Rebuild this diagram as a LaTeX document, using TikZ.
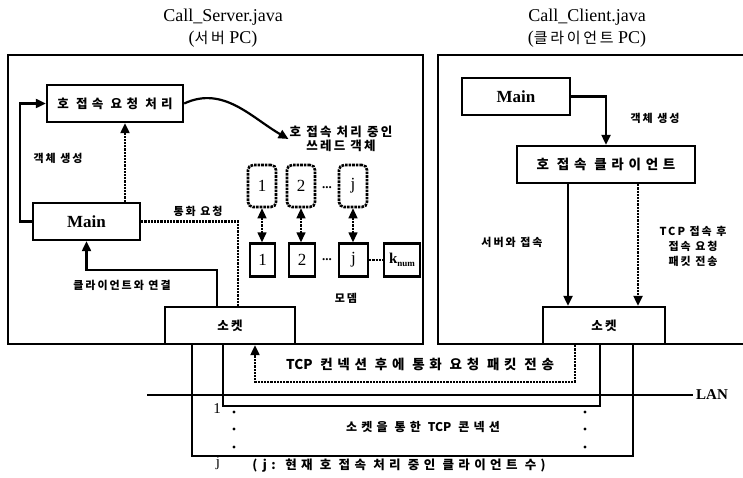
\documentclass[tikz,border=0pt]{standalone}
\usepackage{fontspec}
\setmainfont{Liberation Serif}
\newfontfamily\kr[LetterSpace=18]{Noto Sans CJK KR}
\newfontfamily\krw[LetterSpace=35]{Noto Sans CJK KR}
\newfontfamily\krn{Noto Sans CJK KR}
\usepackage{tikz}
\usetikzlibrary{arrows.meta, positioning}

\newcommand{\kbig}{\kr\bfseries\fontsize{12.5}{15}\selectfont}
\newcommand{\kwide}{\krw\bfseries\fontsize{12.5}{15}\selectfont}
\newcommand{\ksmall}{\kr\bfseries\fontsize{11}{13}\selectfont}

\begin{document}
\begin{tikzpicture}[x=1pt, y=-1pt, >={Triangle[length=10pt,width=9pt]},
    box/.style={draw, line width=2.4pt, minimum height=37pt, inner sep=0pt},
    thrbox/.style={draw, densely dotted, line width=2.6pt, rounded corners=5pt, minimum width=28pt, minimum height=42pt, inner sep=0pt, font=\fontsize{17}{19}\selectfont},
    modbox/.style={draw, line width=2.4pt, minimum height=33pt, inner sep=0pt, font=\fontsize{17}{19}\selectfont},
    frame/.style={line width=2.8pt},
    conn/.style={line width=2.2pt},
    dconn/.style={line width=2.2pt, densely dotted},
    lbl/.style={font=\ksmall, inner sep=1pt},
    title/.style={font=\fontsize{18}{22}\selectfont, align=center}]
    \useasboundingbox (0,0) rectangle (743,478);

    % Titles
    \node[title] (stitle) at (223,28) {Call\_Server.java\\({\kr\fontsize{15}{18}\selectfont 서버} PC)};
    \node[title] (ctitle) at (587,28) {Call\_Client.java\\({\kr\fontsize{15}{18}\selectfont 클라이언트} PC)};

    % Frames of the two PCs
    \draw[frame] (8,55) rectangle (423,344);
    \draw[frame] (745,55) -- (438,55) -- (438,344) -- (745,344);

    % Server side
    \node[box, minimum width=136pt, font=\kwide] (req) at (115,103.5) {호~접속~요청~처리};
    \node[box, minimum width=107pt, font=\bfseries\fontsize{17}{19}\selectfont] (smain) at (86.5,221.5) {Main};
    \node[box, minimum width=130pt, font=\kbig] (ssock) at (230,325.5) {소켓};

    \draw[conn, ->] (smain.west) -- ++(-12,0) |- (req.west);
    \node[lbl] (screate) at (58,158) {객체~생성};

    \coordinate (sx1) at (125,0);
    \draw[dconn, ->] (smain.north -| sx1) -- (req.south -| sx1);

    \node[font=\kbig, align=center, inner sep=1pt] (thlbl) at (341,139) {호 접속 처리 중인\\[-1pt]쓰레드 객체};
    \draw[conn, ->] (req.east) to[out=25, in=150] (thlbl.west);

    % thread objects and modems
    \node[thrbox] (t1) at (262,186) {1};
    \node[thrbox] (t2) at (301,186) {2};
    \node[thrbox] (tj) at (353,186) {j};
    \node (tdots) at (327,188) {\bfseries\fontsize{13}{15}\selectfont ...};

    \node[modbox, minimum width=25pt] (m1) at (262.5,260) {1};
    \node[modbox, minimum width=26pt] (m2) at (302,260) {2};
    \node[modbox, minimum width=29pt] (mj) at (353.5,260) {j};
    \node[modbox, minimum width=36pt] (kn) at (402,260) {\bfseries\fontsize{15}{17}\selectfont k\raisebox{-0.4ex}{\fontsize{9}{10}\selectfont num}};
    \node (mdots) at (327,260) {\bfseries\fontsize{13}{15}\selectfont ...};
    \draw[dconn, line width=1.4pt] (mj.east) -- (kn.west);

    \foreach \t/\m in {t1/m1, t2/m2, tj/mj}
        \draw[dconn, line width=1.4pt, <->] (\t.south) -- (\t.south |- \m.north);
    \node[lbl] (modem) at (346,298) {모뎀};

    \coordinate (sx2) at (238,0);
    \draw[dconn] (smain.east) -| (ssock.north -| sx2);
    \node[lbl] (callreq) at (198,211) {통화~요청};

    \coordinate (sjoin) at (86.5,270);
    \draw[conn, ->] (ssock.north -| 217,0) |- (sjoin) -- (smain.south);
    \node[lbl] (sconn) at (122,285) {클라이언트와 연결};

    % Client side
    \node[box, minimum width=108pt, font=\bfseries\fontsize{17}{19}\selectfont] (cmain) at (516,96.5) {Main};
    \node[box, minimum width=178pt, font=\krw\bfseries\fontsize{13.5}{16}\selectfont] (cclient) at (606,164.5) {호~접속~클라이언트};
    \node[box, minimum width=122pt, font=\kbig] (csock) at (604,325.5) {소켓};

    \draw[conn, ->] (cmain.east) -| (cclient.north);
    \node[lbl] (ccreate) at (655,118) {객체~생성};

    \coordinate (cx1) at (568,0);
    \coordinate (cx2) at (638,0);
    \draw[conn, ->] (cclient.south -| cx1) -- (csock.north -| cx1);
    \draw[dconn, ->] (cclient.south -| cx2) -- (csock.north -| cx2);
    \node[lbl] (cconn) at (512,242) {서버와 접속};
    \node[lbl, align=center] (cpkt) at (693,246) {TCP 접속 후\\[2pt]접속 요청\\[2pt]패킷 전송};

    % LAN and TCP connections
    \coordinate (o1) at (192,456);
    \coordinate (o2) at (633,456);
    \draw[conn, line width=2.6pt] (ssock.south -| o1) -- (o1) -- (o2) -- (csock.south -| o2);
    \coordinate (i1) at (223,406);
    \coordinate (i2) at (600,406);
    \draw[conn, line width=2.6pt] (ssock.south -| i1) -- (i1) -- (i2) -- (csock.south -| i2);

    \coordinate (lanl) at (147,395);
    \node[font=\bfseries\fontsize{15}{17}\selectfont] (lan) at (712,395) {LAN};
    \draw[frame] (lanl) -- (lan.west);

    \coordinate (d1) at (575,382);
    \coordinate (d2) at (255,382);
    \draw[dconn, ->] (csock.south -| d1) -- (d1) -- (d2) -- (ssock.south -| d2);
    \node[font=\krw\bfseries\fontsize{13.5}{16}\selectfont] (tcpcall) at (420,364) {{\krn TCP} 컨넥션 후에 통화 요청 패킷 전송};

    \node[font=\fontsize{15}{17}\selectfont] (n1) at (217,409) {1};
    \node[font=\fontsize{15}{17}\selectfont] (nj) at (218,463) {j};
    \foreach \y in {412,429,447} {
        \fill (234,\y) circle (1.6pt);
        \fill (585,\y) circle (1.6pt);
    }
    \node[font=\krw\bfseries\fontsize{12}{14}\selectfont] (tcpsock) at (423,427) {소켓을 통한 {\krn TCP} 콘넥션};
    \node[font=\kwide] (note) at (399,466) {(j: 현재 호 접속 처리 중인 클라이언트 수)};
\end{tikzpicture}
\end{document}
